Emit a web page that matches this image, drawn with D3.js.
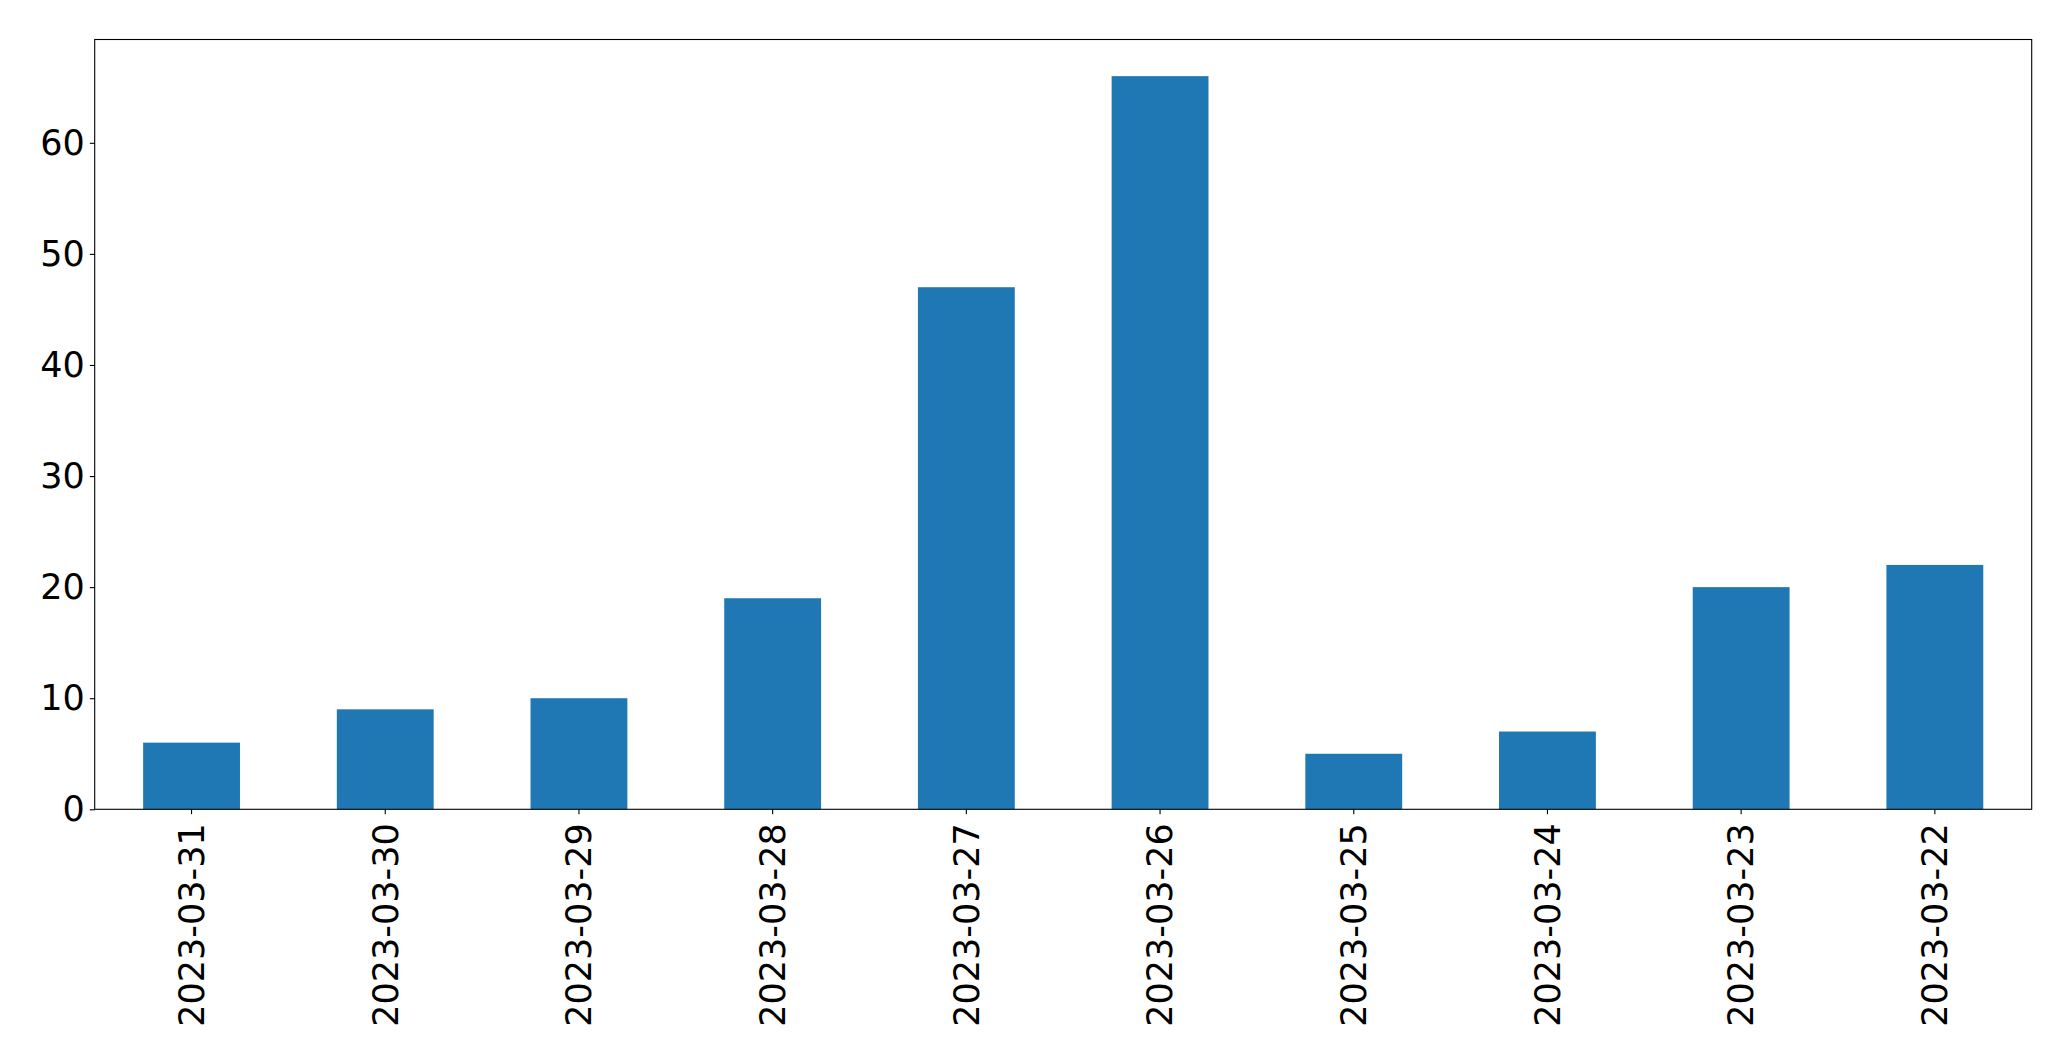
<!DOCTYPE html>
<html>
<head>
<meta charset="utf-8">
<script src="https://cdn.jsdelivr.net/npm/d3@7"></script>
<style>
  body { margin: 0; background: #fff; }
  svg { display: block; }
</style>
</head>
<body>
<svg id="chart"></svg>
<script>
const width = 2071;
const height = 1061;

// Data
const dates = ["2023-03-31", "2023-03-30", "2023-03-29", "2023-03-28", "2023-03-27",
               "2023-03-26", "2023-03-25", "2023-03-24", "2023-03-23", "2023-03-22"];
const counts = [6, 9, 10, 19, 47, 66, 5, 7, 20, 22];
const yTicks = [0, 10, 20, 30, 40, 50, 60];

const margin = { top: 39.5, right: 39.3, bottom: 251.7, left: 94.7 };
const innerW = width - margin.left - margin.right;
const innerH = height - margin.top - margin.bottom;

const svg = d3.select("#chart")
    .attr("width", width)
    .attr("height", height);

const g = svg.append("g")
    .attr("transform", `translate(${margin.left},${margin.top})`);

const x = d3.scaleBand()
    .domain(dates)
    .range([0, innerW])
    .paddingInner(0.5)
    .paddingOuter(0.25);

const y = d3.scaleLinear()
    .domain([0, d3.max(counts) * 1.05])
    .range([innerH, 0]);

// bars
g.selectAll("rect.bar")
    .data(dates.map((d, i) => ({ date: d, value: counts[i] })))
    .enter()
    .append("rect")
    .attr("class", "bar")
    .attr("x", d => x(d.date))
    .attr("y", d => y(d.value))
    .attr("width", x.bandwidth())
    .attr("height", d => innerH - y(d.value))
    .attr("fill", "#1f77b4");

const font = "'DejaVu Sans', sans-serif";

// y axis
const yAxis = g.append("g")
    .call(d3.axisLeft(y).tickValues(yTicks).tickSize(4.9).tickPadding(4.9));
yAxis.select(".domain").remove();
yAxis.selectAll("line").attr("stroke", "#000").attr("stroke-width", 1.1);
yAxis.selectAll("text")
    .attr("font-family", font)
    .attr("font-size", 35)
    .attr("fill", "#000");

// x axis
const xAxis = g.append("g")
    .attr("transform", `translate(0,${innerH})`)
    .call(d3.axisBottom(x).tickSize(4.9).tickPadding(0));
xAxis.select(".domain").remove();
xAxis.selectAll("line").attr("stroke", "#000").attr("stroke-width", 1.1);
xAxis.selectAll("text")
    .attr("font-family", font)
    .attr("font-size", 35)
    .attr("fill", "#000")
    .attr("text-anchor", "end")
    .attr("dy", "0.35em")
    .attr("transform", "translate(0,14) rotate(-90)")
    .attr("x", 0)
    .attr("y", 0);

// frame
g.append("rect")
    .attr("x", 0)
    .attr("y", 0)
    .attr("width", innerW)
    .attr("height", innerH)
    .attr("fill", "none")
    .attr("stroke", "#000")
    .attr("stroke-width", 1.1);
</script>
</body>
</html>
